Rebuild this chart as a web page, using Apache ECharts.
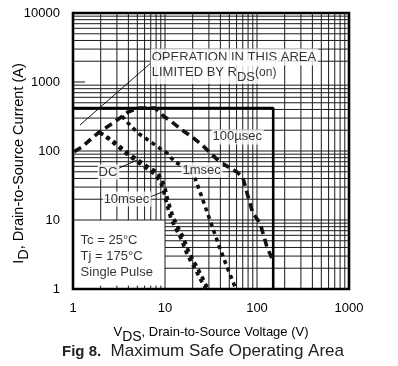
<!DOCTYPE html>
<html><head><meta charset="utf-8">
<script src="https://cdn.jsdelivr.net/npm/echarts@6/dist/echarts.min.js"></script>
<style>html,body{margin:0;padding:0;background:#fff}#c{width:398px;height:366px}</style>
</head><body><div id="c"></div>
<script>
// ---- tick labels ----
const xTicks = [1, 10, 100, 1000];
const yTicks = [1, 10, 100, 1000, 10000];

// ---- curves (VDS in V, ID in A) ----
const v100us = [1.03, 1.25, 1.61, 1.87, 2.52, 3.24, 3.96, 5.1, 7.8, 9.3, 11.9, 15.3, 19.7, 25.3, 39.6, 60.6, 70, 78, 90, 108, 128, 145];
const i100us = [98, 114, 154, 182, 238, 301, 367, 420, 420, 332, 263, 202, 160, 122, 69, 49.6, 42, 24.6, 12.6, 9, 4.1, 2.8];

const v1ms = [3.4, 3.96, 5.09, 6.54, 8.4, 10.5, 12.8, 16.5, 21.2, 25.9, 31.6, 38.6, 47.2, 59];
const i1ms = [320, 255, 182, 144, 114, 93.5, 69, 58.6, 40.6, 19.2, 9.05, 4.26, 2.08, 1];

const v10ms = [1.95, 2.65, 3.96, 5.09, 6.54, 8.19, 9.28, 10, 10.5, 11.3, 12.2, 13.8, 15.7, 17.8, 20.1, 22.3, 25.3, 29.3];
const i10ms = [185, 144, 93.5, 74, 58.6, 49.6, 38, 29.1, 21.5, 15.4, 11.1, 7.9, 5.67, 3.68, 2.63, 2.08, 1.49, 1];

const vDC = [1.95, 2.6, 3.85, 4.9, 6.3, 7.8, 8.9, 9.6, 10.1, 10.8, 11.6, 13.1, 14.9, 16.9, 19.1, 21.2, 24, 27.8];
const iDC = [185, 140, 90, 71, 56, 46, 36, 27.5, 20.5, 14.6, 10.5, 7.5, 5.4, 3.5, 2.5, 1.98, 1.42, 1];

// package / breakdown limit box
const vLimit = [1, 150, 150];
const iLimit = [420, 420, 1];

// leader lines
const vRdsLead = [1.19, 7.22];
const iRdsLead = [238, 1950];
const vDCLead = [3.01, 4.96];
const iDCLead = [54.8, 74];
const v10Lead = [6.87, 10.5];
const i10Lead = [21.5, 27.2];

// annotation texts and anchors
const noteText = [
  'OPERATION IN THIS AREA',
  '{a|LIMITED BY R}{s|DS}{o|(on)}',
  '100\u00b5sec',
  '1msec',
  'DC',
  '10msec',
  'Tc = 25\u00b0C\nTj = 175\u00b0C\nSingle Pulse'
];
const noteV = [7.0, 7.0, 32.0, 15.1, 1.85, 2.1, 1.21];
const noteI = [2300, 1400, 160, 53, 49.6, 20.2, 3.0];

// ---------------------------------------------------------------
const F = '"Liberation Sans", Arial, Helvetica, sans-serif';
const pair = (xs, ys) => xs.map((x, k) => [x, ys[k]]);
const xMin = xTicks[0], xMax = xTicks[xTicks.length - 1];
const yMin = yTicks[0], yMax = yTicks[yTicks.length - 1];

// log grid segments (minor lines 2..9 in each decade)
const segs = [];
for (const d of xTicks.slice(0, -1)) for (let m = 1; m <= 9; m++) {
  const v = m * d; if (v <= xMin || v >= xMax) continue;
  if (d === 1) { segs.push([[v, 10], [v, yMax]]); segs.push([[v, yMin], [v, 1.12]]); }
  else segs.push([[v, yMin], [v, yMax]]);
}
for (const d of yTicks.slice(0, -1)) for (let m = 1; m <= 9; m++) {
  const i = m * d; if (i <= yMin || i >= yMax) continue;
  if (d === 1) segs.push([[10, i], [xMax, i]]);
  else if (i === 1000) segs.push([[xMin, i], [1.35, i]]);
  else segs.push([[xMin, i], [xMax, i]]);
}
const gridSeries = segs.map(s => ({
  type: 'line', data: s, symbol: 'none', silent: true, z: 1,
  lineStyle: { color: '#1a1a1a', width: 1 }
}));

const curve = (name, xs, ys, dash) => ({
  name, type: 'line', data: pair(xs, ys), symbol: 'none', silent: true, z: 3,
  lineStyle: { color: '#111', width: 3.6, type: dash, cap: 'butt' }
});
const thin = (xs, ys) => ({
  type: 'line', data: pair(xs, ys), symbol: 'none', silent: true, z: 3,
  lineStyle: { color: '#000', width: 0.9 }
});

const noteStyles = [
  { backgroundColor: '#fff', padding: [1, 2, 1, 1], fontSize: 13, lineHeight: 15 },
  { backgroundColor: '#fff', padding: [1, 2, 0, 1], fontSize: 13,
    rich: { a: { fontSize: 13, fontFamily: F, color: '#000' },
            s: { fontSize: 13, fontFamily: F, color: '#000', padding: [10, 0, 0, 0] },
            o: { fontSize: 12, fontFamily: F, color: '#000' } } },
  { backgroundColor: '#fff', padding: [1, 2, 1, 1], fontSize: 13 },
  { backgroundColor: '#fff', padding: [1, 2, 1, 1], fontSize: 13 },
  { backgroundColor: '#fff', padding: [1, 2, 1, 1], fontSize: 13 },
  { backgroundColor: '#fff', padding: [1, 2, 1, 1], fontSize: 13 },
  { fontSize: 13, lineHeight: 16, padding: 0 }
];

const chart = echarts.init(document.getElementById('c'), null, { renderer: 'canvas' });
chart.setOption({
  animation: false,
  backgroundColor: '#fff',
  textStyle: { fontFamily: F },
  title: {
    text: '{b|Fig 8.}{n|  Maximum Safe Operating Area}',
    left: 62, top: 343, padding: 0,
    textStyle: { fontWeight: 'normal', rich: {
      b: { fontSize: 15, fontWeight: 'bold', fontFamily: F, color: '#222' },
      n: { fontSize: 17, fontWeight: 'normal', fontFamily: F, color: '#222' } } }
  },
  grid: { left: 73, right: 49, top: 13, bottom: 77, containLabel: false, outerBoundsMode: 'none',
          show: true, borderColor: '#000', borderWidth: 2.6, backgroundColor: 'transparent' },
  xAxis: {
    type: 'log', logBase: 10, min: xMin, max: xMax,
    axisLine: { show: false }, axisTick: { show: false }, splitLine: { show: false },
    axisLabel: { fontSize: 13, color: '#000', margin: 13, fontFamily: F, formatter: v => String(Math.round(v)) },
    name: '{n|V}{s|DS}{n|, Drain-to-Source Voltage (V)}',
    nameLocation: 'middle', nameGap: 31, nameMoveOverlap: false,
    nameTextStyle: { rich: {
      n: { fontSize: 13, fontFamily: F, color: '#000' },
      s: { fontSize: 14, fontFamily: F, color: '#000', padding: [10, 0, 0, 0] } } }
  },
  yAxis: {
    type: 'log', logBase: 10, min: yMin, max: yMax,
    axisLine: { show: false }, axisTick: { show: false }, splitLine: { show: false },
    axisLabel: { fontSize: 13, color: '#000', margin: 13, fontFamily: F, formatter: v => String(Math.round(v)) },
    name: '{n|I}{s|D}{n|, Drain-to-Source Current (A)}',
    nameLocation: 'middle', nameGap: 42, nameRotate: 90, nameMoveOverlap: false,
    nameTextStyle: { padding: [0, 25, 0, 0], rich: {
      n: { fontSize: 14.5, fontFamily: F, color: '#000' },
      s: { fontSize: 14.5, fontFamily: F, color: '#000', padding: [10, 0, 0, 0] } } }
  },
  series: gridSeries.concat([
    {
      type: 'line', data: pair(vLimit, iLimit), symbol: 'none', silent: true, z: 3,
      lineStyle: { color: '#000', width: 2.6 }
    },
    curve('100us', v100us, i100us, [8, 5]),
    curve('1ms', v1ms, i1ms, [4, 4]),
    curve('10ms', v10ms, i10ms, [4, 4]),
    curve('DC', vDC, iDC, [4, 4]),
    thin(vRdsLead, iRdsLead),
    thin(vDCLead, iDCLead),
    thin(v10Lead, i10Lead),
    {
      type: 'scatter', symbolSize: 0, silent: true, z: 4,
      data: noteText.map((t, k) => ({
        value: [noteV[k], noteI[k]],
        label: Object.assign({
          show: true, position: 'right', distance: 0, formatter: t,
          color: '#000', fontFamily: F, align: 'left', verticalAlign: 'middle'
        }, noteStyles[k])
      }))
    }
  ])
});
</script>
</body></html>
